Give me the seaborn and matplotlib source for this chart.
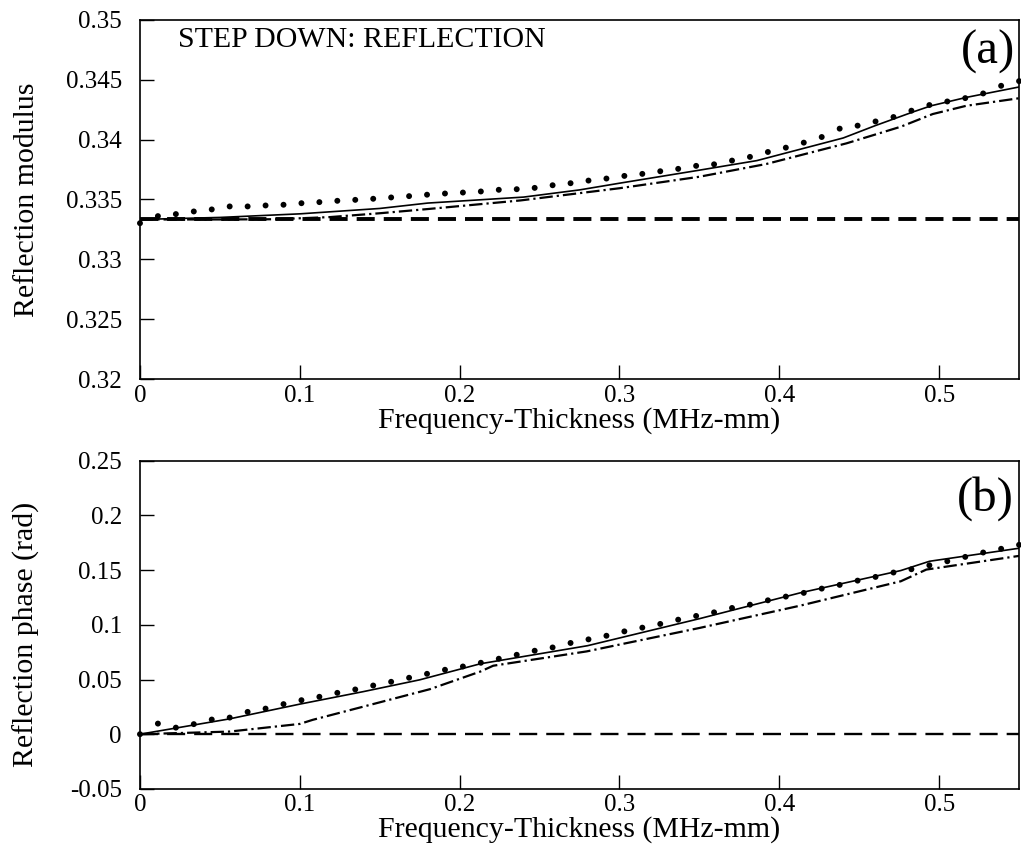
import matplotlib
matplotlib.use("Agg")
import matplotlib.pyplot as plt
import pandas as pd
import seaborn as sns
from matplotlib.ticker import FixedLocator, FuncFormatter

sns.set_theme(style="white", rc={"text.color": "black", "axes.labelcolor": "black",
                                 "xtick.color": "black", "ytick.color": "black",
                                 "axes.edgecolor": "black"})
plt.rcParams["font.family"] = ["Liberation Serif", "DejaVu Serif"]

# Discrete (dotted) solution sampled in frequency-thickness (MHz-mm)
dot_fd = [0.0, 0.01122, 0.02245, 0.03367, 0.04490, 0.05612, 0.06735, 0.07857,
          0.08980, 0.10102, 0.11224, 0.12347, 0.13469, 0.14592, 0.15714, 0.16837,
          0.17959, 0.19082, 0.20204, 0.21327, 0.22449, 0.23571, 0.24694, 0.25816,
          0.26939, 0.28061, 0.29184, 0.30306, 0.31429, 0.32551, 0.33673, 0.34796,
          0.35918, 0.37041, 0.38163, 0.39286, 0.40408, 0.41531, 0.42653, 0.43776,
          0.44898, 0.46020, 0.47143, 0.48265, 0.49388, 0.50510, 0.51633, 0.52755,
          0.53878, 0.55]
dot_mod = [0.33302, 0.33361, 0.33378, 0.33400, 0.33417, 0.33442, 0.33442, 0.33450,
           0.33456, 0.33469, 0.33478, 0.33489, 0.33497, 0.33506, 0.33517, 0.33528,
           0.33540, 0.33550, 0.33558, 0.33567, 0.33581, 0.33586, 0.33597, 0.33619,
           0.33636, 0.33658, 0.33675, 0.33697, 0.33714, 0.33736, 0.33756, 0.33781,
           0.33794, 0.33825, 0.33856, 0.33897, 0.33933, 0.33975, 0.34022, 0.34092,
           0.34117, 0.34152, 0.34189, 0.34242, 0.34289, 0.34319, 0.34347, 0.34386,
           0.34450, 0.34489]
dot_phase = [0.0, 0.0097, 0.0060, 0.0092, 0.0134, 0.0152, 0.0204, 0.0234,
             0.0275, 0.0311, 0.0342, 0.0378, 0.0409, 0.0445, 0.0479, 0.0516,
             0.0552, 0.0589, 0.0619, 0.0653, 0.0690, 0.0726, 0.0763, 0.0793,
             0.0834, 0.0867, 0.0900, 0.0940, 0.0974, 0.1008, 0.1047, 0.1081,
             0.1114, 0.1154, 0.1184, 0.1224, 0.1258, 0.1292, 0.1331, 0.1365,
             0.1404, 0.1438, 0.1478, 0.1508, 0.1544, 0.1581, 0.1621, 0.1661,
             0.1695, 0.1731]

# Continuous model (solid)
solid_mod_fd = [0.0, 0.05, 0.10, 0.15, 0.18, 0.24, 0.275, 0.30, 0.35, 0.386,
                0.44, 0.46, 0.484, 0.495, 0.517, 0.55]
solid_mod = [0.33333, 0.33350, 0.33380, 0.33425, 0.33470, 0.33520, 0.33580,
             0.33636, 0.33745, 0.33825, 0.34014, 0.34117, 0.34233, 0.34283,
             0.34353, 0.34440]
solid_phase_fd = [0.0, 0.056, 0.10, 0.14, 0.175, 0.213, 0.28, 0.35, 0.413,
                  0.476, 0.494, 0.55]
solid_phase = [0.0, 0.0140, 0.0275, 0.0390, 0.0497, 0.0644, 0.0809, 0.1056,
               0.1292, 0.1496, 0.1581, 0.1700]

# Approximate model (dash-dot)
dd_mod_fd = [0.0, 0.05, 0.085, 0.119, 0.15, 0.18, 0.238, 0.30, 0.35, 0.392,
             0.442, 0.476, 0.496, 0.517, 0.55]
dd_mod = [0.33333, 0.33333, 0.33335, 0.33353, 0.33385, 0.33420, 0.33492,
          0.33594, 0.33690, 0.33797, 0.33969, 0.34108, 0.34214, 0.34283, 0.34346]
dd_phase_fd = [0.0, 0.056, 0.10, 0.108, 0.14, 0.1815, 0.213, 0.221, 0.2795,
               0.35, 0.413, 0.476, 0.492, 0.55]
dd_phase = [0.0, 0.0024, 0.0094, 0.0131, 0.0253, 0.0412, 0.0573, 0.0626,
            0.0757, 0.0971, 0.1175, 0.1398, 0.1505, 0.1630]

# Low-frequency limit (dashed)
limit_fd = [0.0, 0.55]
limit_mod = [0.33333, 0.33333]
limit_phase = [0.0, 0.0]

x_ticks = [0.0, 0.1, 0.2, 0.3, 0.4, 0.5]
mod_ticks = [0.32, 0.325, 0.33, 0.335, 0.34, 0.345, 0.35]
phase_ticks = [-0.05, 0.0, 0.05, 0.1, 0.15, 0.2, 0.25]

fig = plt.figure(figsize=(10.21, 8.46), dpi=100)
ax_a = fig.add_axes([0.1371, 0.5520, 0.8610, 0.4244])
ax_b = fig.add_axes([0.1371, 0.0675, 0.8610, 0.3879])

fmt = FuncFormatter(lambda v, _: f"{v:g}")


def style_axes(ax, yticks, ylim, ylabel, ylab_y):
    ax.set_xlim(0, 0.55)
    ax.set_ylim(*ylim)
    ax.xaxis.set_major_locator(FixedLocator(x_ticks))
    ax.yaxis.set_major_locator(FixedLocator(yticks))
    ax.xaxis.set_major_formatter(fmt)
    ax.yaxis.set_major_formatter(fmt)
    ax.tick_params(axis="both", direction="in", length=10, width=1.0,
                   color="black", labelcolor="black", labelsize=18,
                   bottom=True, left=True, top=False, right=False)
    ax.tick_params(axis="y", pad=13)
    ax.tick_params(axis="x", pad=4)
    for sp in ax.spines.values():
        sp.set_color("black")
        sp.set_linewidth(1.2)
        sp.set_visible(True)
    ax.set_xlabel("Frequency-Thickness (MHz-mm)", fontsize=21.5, color="black")
    ax.set_ylabel(ylabel, fontsize=21.5, color="black")
    ax.yaxis.set_label_coords(-0.114, ylab_y)
    ax.xaxis.labelpad = 0
    ax.grid(False)
    ax.set_facecolor("white")


def draw_panel(ax, dots, solid_x, solid_y, dd_x, dd_y, lim_y, dash_lw):
    sns.lineplot(x=limit_fd, y=lim_y, ax=ax, color="black", lw=dash_lw,
                 linestyle=(0, (13 / dash_lw, 6.5 / dash_lw)), sort=False)
    sns.lineplot(x=dd_x, y=dd_y, ax=ax, color="black", lw=1.6,
                 linestyle=(0, (6.0, 1.8, 1.0, 1.8)), sort=False)
    sns.lineplot(x=solid_x, y=solid_y, ax=ax, color="black", lw=1.2, sort=False)
    sns.scatterplot(x=dot_fd, y=dots, ax=ax, color="black", s=18,
                    edgecolor="none", clip_on=False, zorder=5)


draw_panel(ax_a, dot_mod, solid_mod_fd, solid_mod, dd_mod_fd, dd_mod,
           limit_mod, 2.8)
draw_panel(ax_b, dot_phase, solid_phase_fd, solid_phase, dd_phase_fd, dd_phase,
           limit_phase, 1.7)

style_axes(ax_a, mod_ticks, (0.32, 0.35), "Reflection modulus", 0.5)
style_axes(ax_b, phase_ticks, (-0.05, 0.25), "Reflection phase (rad)", 0.47)

ax_a.text(0.043, 0.944, "STEP DOWN: REFLECTION", transform=ax_a.transAxes,
          fontsize=21.5, ha="left", va="center", color="black")
ax_a.text(0.996, 0.91, "(a)", transform=ax_a.transAxes, fontsize=35,
          ha="right", va="center", color="black")
ax_b.text(0.994, 0.885, "(b)", transform=ax_b.transAxes, fontsize=35,
          ha="right", va="center", color="black")

fig.savefig("out.png", dpi=100, facecolor="white")
